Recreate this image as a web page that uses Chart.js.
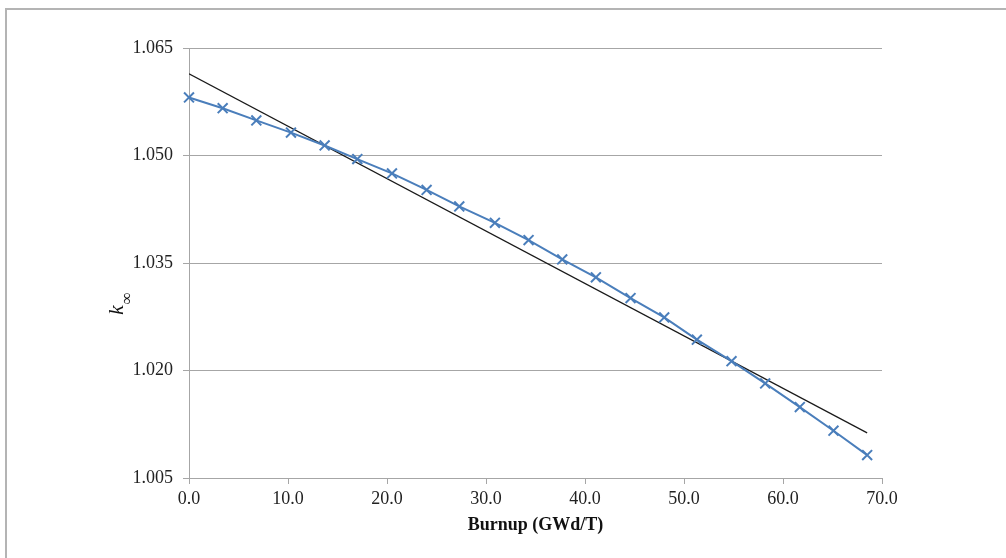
<!DOCTYPE html>
<html>
<head>
<meta charset="utf-8">
<script src="https://cdn.jsdelivr.net/npm/chart.js@4.4.0/dist/chart.umd.min.js"></script>
<style>
	html, body { margin: 0; padding: 0; background: #fff; }
	#wrap { position: relative; width: 1006px; height: 558px; overflow: hidden; }
	#frame { position: absolute; left: 5px; top: 8px; width: 1100px; height: 700px; border-left: 2px solid #b4b4b4; border-top: 2px solid #b4b4b4; }
	#chart { position: absolute; left: 0; top: 0; }
</style>
</head>
<body>
<div id="wrap">
	<div id="frame"></div>
	<canvas id="chart" width="1006" height="558"></canvas>
</div>
<script>
(() => {
	'use strict'

	// Burnup steps (GWd/T) and infinite multiplication factor
	const burnup = [0, 3.4, 6.8, 10.3, 13.7, 17.0, 20.5, 24.0, 27.3, 30.9, 34.3, 37.7, 41.1, 44.6, 48.0, 51.3, 54.8, 58.2, 61.7, 65.1, 68.5];
	const kInf = [1.0581, 1.0566, 1.0549, 1.0532, 1.0514, 1.0495, 1.0475, 1.0452, 1.0429, 1.0406, 1.0382, 1.0355, 1.0330, 1.0301, 1.0274, 1.0243, 1.0213, 1.0182, 1.0149, 1.0116, 1.0082];

	// Linear fit end points
	const fitX = [0, 68.5];
	const fitY = [1.0614, 1.0113];

	// Axis ticks
	const yTicks = [1.005, 1.020, 1.035, 1.050, 1.065];
	const xTicks = [0, 10, 20, 30, 40, 50, 60, 70];

	const serif = '"Liberation Serif", "Times New Roman", serif';
	const blue = '#4a7ebb';
	const gridColor = '#a6a6a6';

	// Rotated y-axis title: italic k with subscript infinity
	const yTitle = {
		id: 'yTitle',
		afterDraw(chart) {
			const ctx = chart.ctx;
			ctx.save();
			ctx.translate(123, 315);
			ctx.rotate(-Math.PI / 2);
			ctx.fillStyle = '#111';
			ctx.textBaseline = 'alphabetic';
			ctx.font = 'italic 22px ' + serif;
			ctx.fillText('k', 0, 0);
			const w = ctx.measureText('k').width;
			ctx.font = '17px ' + serif;
			ctx.fillText('\u221e', w + 1, 9);
			ctx.restore();
		}
	};

	const points = burnup.map((x, i) => ({ x: x, y: kInf[i] }));
	const fit = fitX.map((x, i) => ({ x: x, y: fitY[i] }));

	const config = {
		type: 'scatter',
		data: {
			datasets: [
				{
					label: 'k-inf',
					data: points,
					showLine: true,
					clip: false,
					borderColor: blue,
					backgroundColor: blue,
					borderWidth: 2,
					pointStyle: 'crossRot',
					pointRadius: 7,
					pointBorderWidth: 2,
					pointBorderColor: blue,
					order: 1
				},
				{
					label: 'Linear',
					data: fit,
					showLine: true,
					borderColor: '#1a1a1a',
					borderWidth: 1.2,
					pointRadius: 0,
					order: 2
				}
			]
		},
		options: {
			responsive: false,
			animation: false,
			devicePixelRatio: 1,
			layout: {
				padding: { left: 0, top: 48, right: 124, bottom: 0 }
			},
			scales: {
				x: {
					type: 'linear',
					min: 0,
					max: 70,
					afterFit(scale) { scale.height = 80; },
					afterBuildTicks(scale) { scale.ticks = xTicks.map(v => ({ value: v })); },
					ticks: {
						padding: 4,
						color: '#222',
						font: { family: serif, size: 18 },
						callback: v => v.toFixed(1)
					},
					grid: {
						drawOnChartArea: false,
						drawTicks: true,
						tickLength: 6,
						color: gridColor
					},
					border: { display: true, color: gridColor, width: 1 },
					title: {
						display: true,
						text: 'Burnup (GWd/T)',
						color: '#111',
						font: { family: serif, size: 18, weight: 'bold' },
						padding: { top: 0, bottom: 22 }
					}
				},
				y: {
					type: 'linear',
					min: 1.005,
					max: 1.065,
					afterFit(scale) { scale.width = 189; },
					afterBuildTicks(scale) { scale.ticks = yTicks.map(v => ({ value: v })); },
					ticks: {
						padding: 10,
						color: '#222',
						font: { family: serif, size: 18 },
						callback: v => v.toFixed(3)
					},
					grid: {
						drawTicks: true,
						tickLength: 6,
						color: gridColor,
						lineWidth: 1
					},
					border: { display: true, color: gridColor, width: 1 }
				}
			},
			plugins: {
				legend: { display: false },
				title: { display: false },
				tooltip: { enabled: false }
			}
		},
		plugins: [yTitle]
	};

	new Chart(document.getElementById('chart'), config);
})()
</script>
</body>
</html>
